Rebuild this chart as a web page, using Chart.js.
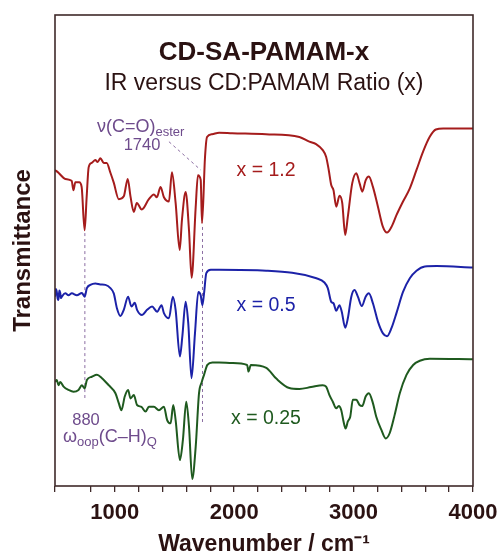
<!DOCTYPE html>
<html><head><meta charset="utf-8">
<script src="https://cdn.jsdelivr.net/npm/chart.js@4"></script>
<style>html,body{margin:0;padding:0;background:#fff;}canvas{display:block;}</style>
</head><body>
<canvas id="c" width="500" height="558"></canvas>
<script>
// ---- data (wavenumber in cm^-1, transmittance in arbitrary offset units) ----
const redWavenumbers = [500,529,586,639,655,670,703,723,748,765,782,807,838,857,880,908,933,964,992,1034,1076,1109,1132,1160,1185,1227,1286,1328,1353,1384,1412,1454,1479,1510,1544,1563,1594,1622,1644,1678,1697,1720,1731,1756,1773,1815,1874,1983,2266,2546,2630,2686,2742,2770,2792,2813,2832,2855,2882,2905,2930,2952,2989,3023,3050,3073,3101,3128,3162,3204,3246,3280,3317,3359,3414,3471,3527,3582,3639,3689,3750,4000];
const redValues = [67.1,66.5,65.2,64.8,62.8,64.5,64.5,63.5,54.3,61.3,67.7,68.6,69.2,68.8,69.6,68.6,68.6,66.5,64.4,60.9,61.5,65.2,61.5,58.2,60.1,58.7,60.9,61.9,61.3,63.5,61.3,60.4,66.6,60.1,50.1,56.5,62.4,54.3,44.2,59.2,66.0,65.0,55.8,69.8,74.1,74.7,75.0,74.9,74.7,74.1,73.1,72.6,71.3,69.9,67.1,63.9,62.8,59.3,61.6,60.1,53.3,57.2,64.3,66.4,64.3,62.5,64.9,65.7,63.5,59.3,55.0,53.8,55.0,57.5,60.4,63.2,67.1,71.0,74.2,75.7,75.9,75.9];

const blueWavenumbers = [500,507,515,522,529,536,544,550,557,586,613,641,683,725,748,767,796,838,880,922,964,992,1019,1048,1076,1112,1140,1168,1187,1229,1271,1313,1355,1392,1412,1454,1487,1510,1546,1566,1594,1616,1643,1672,1700,1720,1734,1748,1767,1804,1874,2269,2689,2756,2784,2813,2832,2855,2882,2901,2930,2952,2981,3008,3036,3069,3101,3128,3162,3204,3246,3280,3317,3359,3414,3471,3527,3597,3695,4000];
const blueValues = [40.2,41.8,41.2,39.8,39.5,41.5,41.0,39.9,40.2,40.9,40.5,40.9,40.5,41.0,40.2,42.0,42.7,43.0,42.8,42.7,42.0,40.9,37.7,36.1,37.4,40.2,38.1,38.9,37.4,36.3,37.4,38.1,37.0,38.4,36.7,35.6,40.2,37.4,27.5,31.7,39.1,34.5,22.9,32.4,41.2,40.5,38.4,40.9,45.2,45.9,45.9,45.7,44.1,43.2,42.0,39.1,38.8,37.2,38.4,37.0,33.6,35.6,40.2,41.6,40.2,38.2,40.2,40.9,38.8,34.9,32.4,31.8,33.5,36.7,41.2,44.1,45.7,46.6,46.7,46.4];

const greenWavenumbers = [500,515,529,544,572,613,655,697,725,748,767,809,851,893,950,1006,1034,1056,1084,1112,1132,1160,1187,1224,1258,1286,1328,1370,1412,1439,1468,1490,1510,1546,1571,1599,1622,1649,1678,1706,1729,1748,1776,1818,1874,1983,2109,2120,2140,2269,2353,2462,2546,2644,2742,2770,2798,2826,2855,2876,2897,2916,2933,2952,2972,2994,3023,3050,3073,3101,3128,3162,3190,3233,3269,3302,3344,3387,3443,3499,3555,3639,4000];
const greenValues = [22.1,22.5,21.4,22.1,21.1,20.4,20.0,20.4,21.4,20.7,22.5,23.2,23.6,22.9,21.4,19.7,17.6,16.1,19.0,20.4,18.6,19.3,17.2,16.8,15.8,16.8,16.8,16.1,16.8,14.0,13.3,17.2,14.0,5.5,9.8,17.9,12.6,1.5,8.3,19.7,22.1,23.6,25.7,26.2,26.2,26.1,25.7,24.3,25.7,25.1,22.8,20.8,20.6,21.0,21.4,21.1,19.3,17.9,16.5,17.0,16.1,13.7,12.2,13.7,14.7,18.3,18.3,17.2,17.0,19.0,19.7,17.6,14.7,11.9,10.1,11.2,15.1,19.7,23.6,25.7,26.6,27.0,26.9];

const seriesLabels = ['x = 1.2', 'x = 0.5', 'x = 0.25'];
const tickLabels = ['1000', '2000', '3000', '4000'];
const titleText = 'CD-SA-PAMAM-x';
const subtitleText = 'IR versus CD:PAMAM Ratio (x)';
// annotation guide lines: [x1, y1, x2, y2] in data units
const markerLines = [[750, 53.7, 750, 18.7], [1735, 55.0, 1735, 13.6], [1454, 73.1, 1720, 67.1]];

// ---- styles ----
const FONT = "'Liberation Sans', Arial, Helvetica, sans-serif";
const RED = '#a51c1c', BLUE = '#1c22a8', GREEN = '#1f5a1f';
const PURPLE = '#6e4b8c', PURPLE_LINE = '#8c6fa3';
const FRAME = '#3f2a2a', INK = '#2b1212';

function pts(xs, ys) { return xs.map((w, i) => ({ x: w, y: ys[i] })); }

function rich(ctx, parts, x, y) {
  let cx = x;
  for (const p of parts) {
    ctx.font = p.font;
    ctx.fillText(p.t, cx, y + (p.dy || 0));
    cx += ctx.measureText(p.t).width;
  }
}

const decor = {
  id: 'decor',
  beforeDatasetsDraw(chart) {
    const { ctx, scales: { x, y } } = chart;
    ctx.save();
    ctx.strokeStyle = PURPLE_LINE;
    ctx.lineWidth = 1;
    ctx.setLineDash([3, 3]);
    for (const [x1, y1, x2, y2] of markerLines) {
      ctx.beginPath();
      ctx.moveTo(x.getPixelForValue(x1), y.getPixelForValue(y1));
      ctx.lineTo(x.getPixelForValue(x2), y.getPixelForValue(y2));
      ctx.stroke();
    }
    ctx.restore();
  },
  afterDraw(chart) {
    const { ctx, chartArea: a } = chart;
    ctx.save();
    // frame
    ctx.strokeStyle = FRAME;
    ctx.lineWidth = 1.6;
    ctx.strokeRect(a.left, a.top, a.right - a.left, a.bottom - a.top);
    // titles
    const cx = (a.left + a.right) / 2;
    ctx.fillStyle = INK;
    ctx.textAlign = 'center';
    ctx.textBaseline = 'alphabetic';
    ctx.font = 'bold 26px ' + FONT;
    ctx.fillText(titleText, cx, a.top + 45);
    ctx.font = '23px ' + FONT;
    ctx.fillText(subtitleText, cx, a.top + 75);
    // series labels
    ctx.font = '19.5px ' + FONT;
    const lx = a.left + 211;
    ctx.fillStyle = RED;   ctx.fillText(seriesLabels[0], lx, a.top + 161);
    ctx.fillStyle = BLUE;  ctx.fillText(seriesLabels[1], lx, a.top + 296);
    ctx.fillStyle = GREEN; ctx.fillText(seriesLabels[2], lx, a.top + 409);
    // annotations
    ctx.fillStyle = PURPLE;
    ctx.textAlign = 'left';
    rich(ctx, [
      { t: 'ν(C=O)', font: '18px ' + FONT },
      { t: 'ester', font: '13px ' + FONT, dy: 4 }
    ], a.left + 42, a.top + 117);
    ctx.textAlign = 'center';
    ctx.font = '16.5px ' + FONT;
    ctx.fillText('1740', a.left + 87, a.top + 135);
    ctx.fillText('880', a.left + 31, a.top + 410);
    ctx.textAlign = 'left';
    rich(ctx, [
      { t: 'ω', font: '18px ' + FONT },
      { t: 'oop', font: '13px ' + FONT, dy: 4 },
      { t: '(C–H)', font: '18px ' + FONT },
      { t: 'Q', font: '13px ' + FONT, dy: 4 }
    ], a.left + 8, a.top + 427);
    ctx.restore();
  }
};

const common = { pointRadius: 0, borderWidth: 2, fill: false, cubicInterpolationMode: 'monotone' };

new Chart(document.getElementById('c'), {
  type: 'line',
  data: {
    datasets: [
      Object.assign({ label: seriesLabels[0], data: pts(redWavenumbers, redValues), borderColor: RED }, common),
      Object.assign({ label: seriesLabels[1], data: pts(blueWavenumbers, blueValues), borderColor: BLUE }, common),
      Object.assign({ label: seriesLabels[2], data: pts(greenWavenumbers, greenValues), borderColor: GREEN }, common)
    ]
  },
  options: {
    responsive: false,
    animation: false,
    devicePixelRatio: 1,
    layout: { padding: { left: 0, right: 27, top: 15, bottom: 0 } },
    plugins: { legend: { display: false }, tooltip: { enabled: false }, title: { display: false } },
    scales: {
      x: {
        type: 'linear', min: 500, max: 4000,
        border: { display: false },
        grid: { display: true, drawOnChartArea: false, drawTicks: true, tickLength: 6, color: FRAME, lineWidth: 1.3 },
        ticks: {
          stepSize: 200, autoSkip: false, maxRotation: 0, minRotation: 0, padding: 8,
          color: INK, font: { family: FONT, size: 22, weight: 'bold' },
          callback: (v) => { const s = String(v); return tickLabels.includes(s) ? s : ''; }
        },
        title: { display: true, text: 'Wavenumber / cm⁻¹', color: INK, font: { family: FONT, size: 23, weight: 'bold' }, padding: { top: 0, bottom: 0 } },
        afterFit: (s) => { s.height = 72; s.paddingLeft = 0; s.paddingRight = 0; }
      },
      y: {
        min: 0, max: 100,
        border: { display: false },
        grid: { display: false },
        ticks: { display: false },
        title: { display: true, text: 'Transmittance', color: INK, font: { family: FONT, size: 24, weight: 'bold' }, padding: { top: 8.6, bottom: 0 } },
        afterFit: (s) => { s.width = 55; s.paddingTop = 0; s.paddingBottom = 0; }
      }
    }
  },
  plugins: [decor]
});
</script>
</body></html>
